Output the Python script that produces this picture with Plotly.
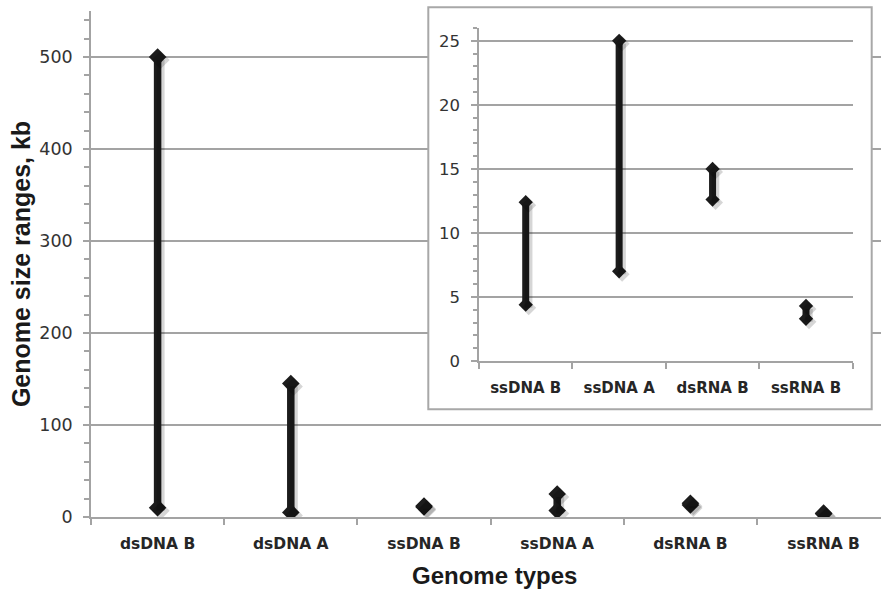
import plotly.graph_objects as go

# ---------------- data ----------------
main_categories = ["dsDNA B", "dsDNA A", "ssDNA B", "ssDNA A", "dsRNA B", "ssRNA B"]
main_low = [10, 5, 11, 7, 13, 3.4]
main_high = [500, 145, 12, 25, 15, 4.2]
main_y_ticks = [0, 100, 200, 300, 400, 500]

inset_categories = ["ssDNA B", "ssDNA A", "dsRNA B", "ssRNA B"]
inset_low = [4.4, 7, 12.6, 3.3]
inset_high = [12.4, 25, 15, 4.3]
inset_y_ticks = [0, 5, 10, 15, 20, 25]

x_title = "Genome types"
y_title = "Genome size ranges, kb"

# ---------------- geometry / style ----------------
W, H = 881, 592
ML, MR, MT, MB = 91, 0, 11, 75
PW, PH = W - ML - MR, H - MT - MB

def px_x(px):
    return (px - ML) / PW

def px_y(py):
    return (H - MB - py) / PH

INK = "#1c1c1c"
AXIS = "#a3a3a3"
GRID = "#a3a3a3"
SHADOW = "rgba(0,0,0,0.16)"

main_xrange = [-0.5, 5.431]
main_yrange = [0, 550]
inset_xrange = [-0.5, 3.5]
inset_yrange = [0, 26]

main_cat_px = PW / (main_xrange[1] - main_xrange[0])
main_unit_px = PH / (main_yrange[1] - main_yrange[0])

inset_dom_x = [px_x(479), px_x(852.7)]
inset_dom_y = [px_y(361), px_y(28)]
inset_cat_px = (852.7 - 479) / 4
inset_unit_px = (361 - 28) / 26

bg_dom_x = [px_x(428.3), px_x(871.7)]
bg_dom_y = [px_y(409.3), 1.0]

SDX, SDY = 3, 3  # shadow offset in px

fig = go.Figure()

def add_ranges(cats, lows, highs, xa, ya, color, lw, ms):
    for c, lo, hi in zip(cats, lows, highs):
        fig.add_trace(go.Scatter(
            x=[c, c], y=[lo, hi], xaxis=xa, yaxis=ya,
            mode="lines+markers",
            line=dict(color=color, width=lw),
            marker=dict(symbol="diamond", size=ms, color=color),
            showlegend=False, hoverinfo="skip"))

# main chart (real marks) and shadow
add_ranges(main_categories, main_low, main_high, "x", "y", INK, 7.5, 13.5)
add_ranges(main_categories, main_low, main_high, "x5", "y5", SHADOW, 8, 14)

# inset background (white panel)
fig.add_trace(go.Heatmap(z=[[0]], xaxis="x2", yaxis="y2",
                         colorscale=[[0, "white"], [1, "white"]],
                         showscale=False, hoverinfo="skip"))

# inset marks and shadow
add_ranges(inset_categories, inset_low, inset_high, "x3", "y3", INK, 7, 11)
add_ranges(inset_categories, inset_low, inset_high, "x7", "y7", SHADOW, 7.5, 11.5)

tick_font = dict(family="DejaVu Sans", size=17.5, color="#333333")
cat_font = dict(family="DejaVu Sans", size=15.5, color="#262626", weight="bold")
title_font = dict(family="Liberation Sans, Arial", size=25, color="#1a1a1a", weight="bold")
xtitle_font = dict(family="Liberation Sans, Arial", size=24, color="#1a1a1a", weight="bold")

hidden = dict(visible=False, showgrid=False, zeroline=False, automargin=False)

fig.update_layout(
    width=W, height=H,
    margin=dict(l=ML, r=MR, t=MT, b=MB, pad=0),
    paper_bgcolor="white", plot_bgcolor="white",
    showlegend=False,
    xaxis=dict(
        type="category", categoryorder="array", categoryarray=main_categories,
        range=main_xrange, domain=[0, 1], anchor="y",
        tickson="boundaries", ticks="outside", ticklen=6, tickwidth=1.5, tickcolor=AXIS,
        showline=True, linecolor=AXIS, linewidth=1.5, showgrid=False, zeroline=False,
        tickfont=cat_font, ticklabelstandoff=12, automargin=False,
    ),
    yaxis=dict(
        range=main_yrange, domain=[0, 1], anchor="x",
        tickvals=main_y_ticks, ticks="outside", ticklen=6, tickwidth=1.5, tickcolor=AXIS,
        minor=dict(dtick=20, ticks="outside", ticklen=5, tickwidth=1.5, tickcolor=AXIS, showgrid=False),
        showline=True, linecolor=AXIS, linewidth=1.5,
        showgrid=True, gridcolor=GRID, gridwidth=1.5, zeroline=False,
        tickfont=tick_font, ticklabelstandoff=7, automargin=False,
        title=dict(text=y_title, font=title_font, standoff=2),
    ),
    yaxis4=dict(
        range=main_yrange, overlaying="y", anchor="x", side="left",
        dtick=20, tick0=0, ticks="inside", ticklen=5, tickwidth=1.5, tickcolor=AXIS,
        showticklabels=False, showgrid=False, showline=False, zeroline=False, automargin=False,
    ),
    xaxis5=dict(hidden, overlaying="x", anchor="y5", type="category",
                categoryorder="array", categoryarray=main_categories,
                range=[main_xrange[0] - SDX / main_cat_px, main_xrange[1] - SDX / main_cat_px]),
    yaxis5=dict(hidden, overlaying="y", anchor="x5",
                range=[main_yrange[0] + SDY / main_unit_px, main_yrange[1] + SDY / main_unit_px]),
    xaxis2=dict(hidden, domain=bg_dom_x, anchor="y2", range=[-0.5, 0.5]),
    yaxis2=dict(hidden, domain=bg_dom_y, anchor="x2", range=[-0.5, 0.5]),
    xaxis3=dict(
        type="category", categoryorder="array", categoryarray=inset_categories,
        range=inset_xrange, domain=inset_dom_x, anchor="y3",
        tickson="boundaries", ticks="outside", ticklen=6, tickwidth=1.5, tickcolor=AXIS,
        showline=True, linecolor=AXIS, linewidth=1.5, showgrid=False, zeroline=False,
        tickfont=dict(family="DejaVu Sans", size=15, color="#262626", weight="bold"),
        ticklabelstandoff=12, automargin=False,
    ),
    yaxis3=dict(
        range=inset_yrange, domain=inset_dom_y, anchor="x3",
        tickvals=inset_y_ticks, ticks="outside", ticklen=6, tickwidth=1.5, tickcolor=AXIS,
        minor=dict(dtick=1, ticks="outside", ticklen=4, tickwidth=1.5, tickcolor=AXIS, showgrid=False),
        showline=True, linecolor=AXIS, linewidth=1.5,
        showgrid=True, gridcolor=GRID, gridwidth=1.5, zeroline=False,
        tickfont=dict(family="DejaVu Sans", size=16.5, color="#333333"),
        ticklabelstandoff=8, automargin=False,
    ),
    yaxis6=dict(
        range=inset_yrange, overlaying="y3", anchor="x3", side="left",
        dtick=1, tick0=0, ticks="inside", ticklen=4, tickwidth=1.5, tickcolor=AXIS,
        showticklabels=False, showgrid=False, showline=False, zeroline=False, automargin=False,
    ),
    xaxis7=dict(hidden, overlaying="x3", anchor="y7", type="category",
                categoryorder="array", categoryarray=inset_categories,
                range=[inset_xrange[0] - SDX / inset_cat_px, inset_xrange[1] - SDX / inset_cat_px]),
    yaxis7=dict(hidden, overlaying="y3", anchor="x7",
                range=[inset_yrange[0] + SDY / inset_unit_px, inset_yrange[1] + SDY / inset_unit_px]),
    shapes=[dict(type="rect", xref="paper", yref="paper", layer="above",
                 x0=bg_dom_x[0], x1=bg_dom_x[1], y0=bg_dom_y[0], y1=px_y(7.3),
                 line=dict(color="#a8a8a8", width=2), fillcolor="rgba(0,0,0,0)")],
    annotations=[dict(text=x_title, xref="paper", yref="paper",
                      x=px_x(495), y=px_y(575.5), xanchor="center", yanchor="middle",
                      showarrow=False, font=xtitle_font)],
)

fig.write_html("out.html", config={"displayModeBar": False},
               post_script="document.body.style.margin='0';document.body.style.overflow='hidden';")
